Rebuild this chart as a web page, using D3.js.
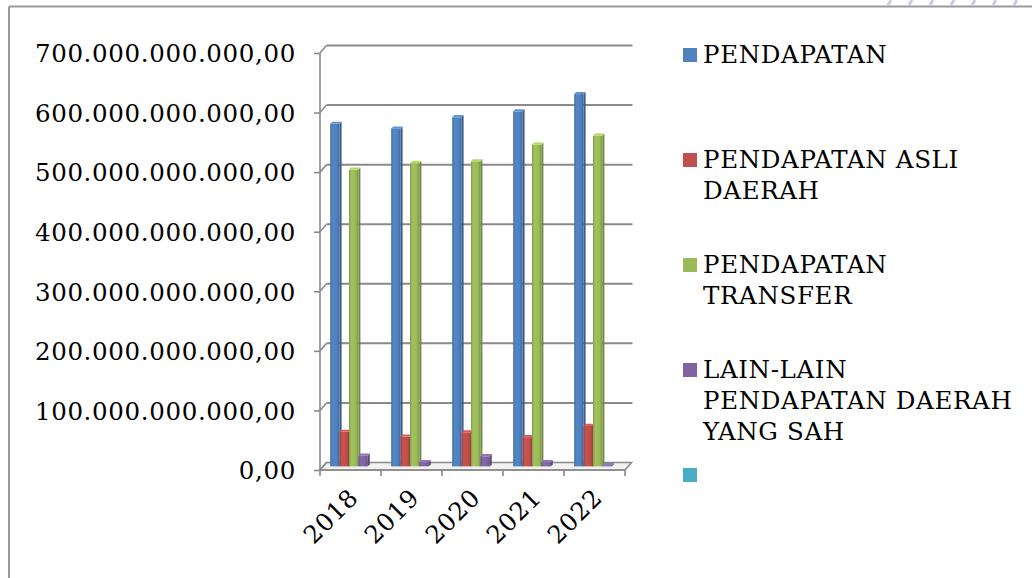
<!DOCTYPE html>
<html>
<head>
<meta charset="utf-8">
<script src="https://cdn.jsdelivr.net/npm/d3@7/dist/d3.min.js"></script>
<style>
  html, body { margin: 0; padding: 0; background: #ffffff; }
  svg { display: block; }
  text { font-family: "DejaVu Serif", "Liberation Serif", serif; fill: #000; letter-spacing: 0.65px; }
</style>
</head>
<body>
<svg id="chart" width="1032" height="578"></svg>
<script>
// Realisasi pendapatan daerah per tahun (Rupiah)
const years = ["2018", "2019", "2020", "2021", "2022"];
const seriesNames = [
  "PENDAPATAN",
  "PENDAPATAN ASLI DAERAH",
  "PENDAPATAN TRANSFER",
  "LAIN-LAIN PENDAPATAN DAERAH YANG SAH",
  ""
];
const pendapatan      = [575e9, 567e9, 586e9, 596e9, 625e9];
const pendapatanAsli  = [58e9, 50e9, 57e9, 49e9, 68e9];
const pendapatanTransfer = [498e9, 509e9, 512e9, 540e9, 555e9];
const lainLain        = [18e9, 7e9, 17e9, 7e9, 2e9];
const seriesBlank     = [null, null, null, null, null];
const yTicks = [0, 100e9, 200e9, 300e9, 400e9, 500e9, 600e9, 700e9];
const legendLines = [
  ["PENDAPATAN"],
  ["PENDAPATAN ASLI", "DAERAH"],
  ["PENDAPATAN", "TRANSFER"],
  ["LAIN-LAIN", "PENDAPATAN DAERAH", "YANG SAH"],
  []
];
const colors = ["#4F81BD", "#C0504D", "#9BBB59", "#8064A2", "#4BACC6"];

const seriesValues = [pendapatan, pendapatanAsli, pendapatanTransfer, lainLain, seriesBlank];

const svg = d3.select("#chart");

// page frame and decorative stripes
const deco = svg.append("g");
d3.range(0, 7).forEach(i => {
  const sx = 888 + i * 21;
  deco.append("line")
    .attr("x1", sx).attr("y1", 5).attr("x2", sx + 3).attr("y2", 0)
    .attr("stroke", "#c9cfe2").attr("stroke-width", 3);
});
deco.append("line").attr("x1", 9).attr("y1", 6.5).attr("x2", 1032).attr("y2", 6.5)
  .attr("stroke", "#9a9a9a").attr("stroke-width", 2);
deco.append("line").attr("x1", 9).attr("y1", 6.5).attr("x2", 9).attr("y2", 578)
  .attr("stroke", "#9a9a9a").attr("stroke-width", 2);

// plot geometry (front plane of the 3-D box)
const x0 = 320, x1 = 625, yBase = 470, yTop = 53;
const depthX = 6.5, depthY = -7.5;

const y = d3.scaleLinear().domain([0, 700e9]).range([yBase, yTop]);
const x = d3.scaleBand().domain(years).range([x0, x1]).padding(0);
const xs = d3.scaleBand().domain(d3.range(seriesNames.length))
  .range([0, x.bandwidth()]).paddingInner(0).paddingOuter(0.745);

const grid = svg.append("g");
const gridColor = "#8a8a8a";

// floor
grid.append("path")
  .attr("d", `M${x0},${yBase} L${x1},${yBase} L${x1 + depthX},${yBase + depthY} L${x0 + depthX},${yBase + depthY} Z`)
  .attr("fill", "#f2f2f2").attr("stroke", gridColor).attr("stroke-width", 1.6);

// back-wall gridlines plus the side-wall step
yTicks.forEach(t => {
  const yy = y(t);
  if (t > 0) {
    grid.append("line")
      .attr("x1", x0 + depthX).attr("y1", yy + depthY)
      .attr("x2", x1 + depthX + 1).attr("y2", yy + depthY)
      .attr("stroke", gridColor).attr("stroke-width", 2);
  }
  grid.append("line")
    .attr("x1", x0).attr("y1", yy).attr("x2", x0 + depthX).attr("y2", yy + depthY)
    .attr("stroke", gridColor).attr("stroke-width", 1.6);
});

// bars
const defs = svg.append("defs");
colors.forEach((c, i) => {
  const g = defs.append("linearGradient").attr("id", "bar" + i)
    .attr("x1", "0").attr("x2", "1").attr("y1", "0").attr("y2", "0");
  const base = d3.color(c);
  g.append("stop").attr("offset", "0%").attr("stop-color", base.darker(0.5));
  g.append("stop").attr("offset", "25%").attr("stop-color", base.brighter(0.1));
  g.append("stop").attr("offset", "70%").attr("stop-color", base);
  g.append("stop").attr("offset", "100%").attr("stop-color", base.darker(0.6));
});

const barDx = 3.2, barDy = -3.6;   // bars stand at mid-depth of the box
const capDx = 2, capDy = -2.2;
const bars = svg.append("g");
years.forEach((yr, ci) => {
  seriesValues.forEach((vals, si) => {
    const v = vals[ci];
    if (v == null) return;
    const bx = x(yr) + xs(si) + barDx;
    const bw = xs.bandwidth();
    const top = y(v) + barDy;
    const bottom = yBase + barDy;
    const base = d3.color(colors[si]);
    // right side face
    bars.append("path")
      .attr("d", `M${bx + bw},${top} L${bx + bw + capDx},${top + capDy} L${bx + bw + capDx},${bottom + capDy} L${bx + bw},${bottom} Z`)
      .attr("fill", base.darker(0.9));
    // front face
    bars.append("rect")
      .attr("x", bx).attr("y", top).attr("width", bw).attr("height", Math.max(0.5, bottom - top))
      .attr("fill", `url(#bar${si})`);
    // top cap
    bars.append("path")
      .attr("d", `M${bx},${top} L${bx + capDx},${top + capDy} L${bx + bw + capDx},${top + capDy} L${bx + bw},${top} Z`)
      .attr("fill", base.brighter(0.4));
  });
});

// front floor edge and axes
const axes = svg.append("g");
axes.append("line").attr("x1", x0).attr("y1", yBase).attr("x2", x1).attr("y2", yBase)
  .attr("stroke", gridColor).attr("stroke-width", 1.6);
axes.append("line").attr("x1", x0).attr("y1", yTop).attr("x2", x0).attr("y2", yBase)
  .attr("stroke", gridColor).attr("stroke-width", 1.6);

// y axis
const fmt = v => {
  const s = d3.format(",.2f")(v);
  return s.replace(/,/g, "#").replace(".", ",").replace(/#/g, ".");
};
const yAxis = d3.axisLeft(y).tickValues(yTicks).tickSize(6).tickPadding(18).tickFormat(fmt);
const yg = svg.append("g").attr("transform", `translate(${x0},0)`).call(yAxis);
yg.select(".domain").remove();
yg.selectAll(".tick line").attr("stroke", gridColor).attr("stroke-width", 1.6);
yg.selectAll(".tick text")
  .style("font-family", '"DejaVu Serif", serif')
  .style("font-size", "24.5px").attr("fill", "#000").attr("dy", "0.36em");

// x axis
const xTickPositions = years.map(yr => x(yr)).concat([x1]);
xTickPositions.forEach(p => {
  axes.append("line").attr("x1", p).attr("y1", yBase).attr("x2", p).attr("y2", yBase + 6)
    .attr("stroke", gridColor).attr("stroke-width", 1.6);
});
years.forEach(yr => {
  const cx = x(yr) + x.bandwidth() / 2 + 3;
  svg.append("text")
    .attr("transform", `translate(${cx},${yBase + 23}) rotate(-45)`)
    .attr("text-anchor", "end")
    .attr("dy", "0.36em")
    .style("font-size", "24.5px")
    .text(yr);
});

// legend
const legendTops = [55, 160, 265, 370, 475];
const lg = svg.append("g");
legendLines.forEach((lines, i) => {
  lg.append("rect").attr("x", 683).attr("y", legendTops[i] - 7).attr("width", 14).attr("height", 14)
    .attr("fill", colors[i]);
  lines.forEach((ln, j) => {
    lg.append("text").attr("x", 703).attr("y", legendTops[i] + 8 + j * 31)
      .style("font-size", "24.5px").text(ln);
  });
});
</script>
</body>
</html>
